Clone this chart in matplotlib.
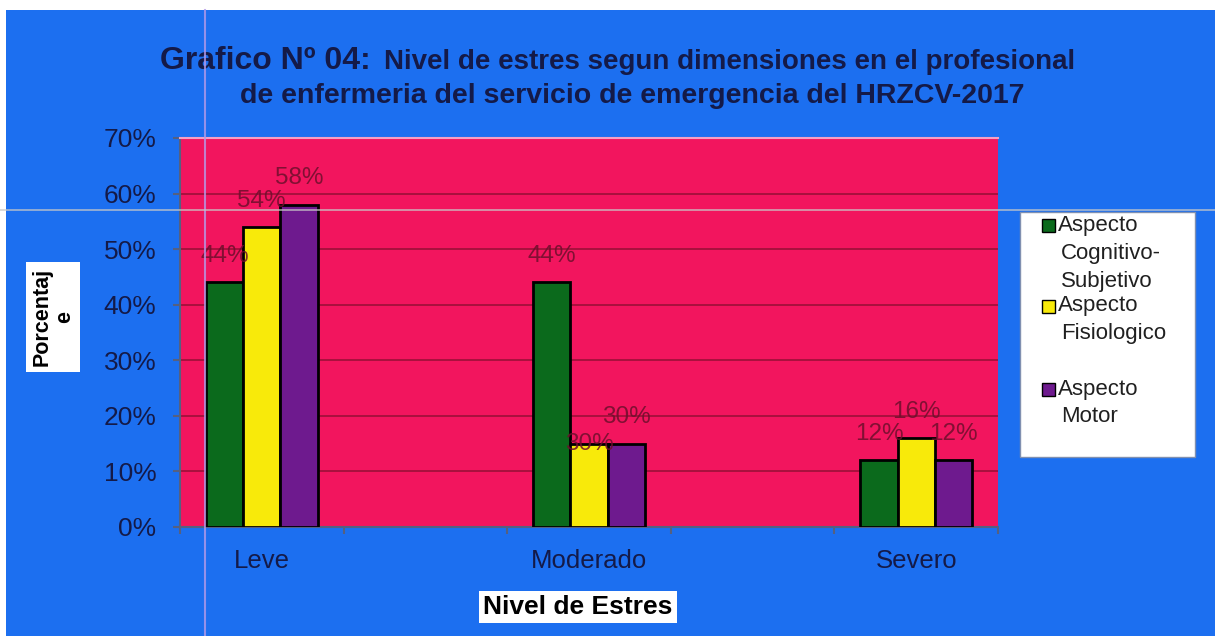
import matplotlib
matplotlib.use("Agg")
import matplotlib.pyplot as plt
from matplotlib.patches import Rectangle
from matplotlib.lines import Line2D

plt.rcParams['font.family'] = ['Liberation Sans', 'DejaVu Sans']

categories = ["Leve", "Moderado", "Severo"]
series_names = ["Aspecto Cognitivo-Subjetivo", "Aspecto Fisiologico", "Aspecto Motor"]
cognitivo = [44, 44, 12]
fisiologico = [54, 15, 16]
motor = [58, 15, 12]
# labels as printed on the original chart
cognitivo_labels = ["44%", "44%", "12%"]
fisiologico_labels = ["54%", "30%", "16%"]
motor_labels = ["58%", "30%", "12%"]
y_ticks = [0, 10, 20, 30, 40, 50, 60, 70]

BLUE = "#1c6ff0"
PINK = "#f2155e"
GRID = "#a8103e"
NAVY = "#141a48"
LBL = "#6e0f2c"
colors = ["#0b6a1c", "#f8ea0a", "#6e1a8e"]

W, H = 1215, 636
fig = plt.figure(figsize=(W / 100, H / 100), dpi=100, facecolor="white")
fig.add_artist(Rectangle((6 / W, 0), 1, 1 - 10 / H, transform=fig.transFigure,
                         facecolor=BLUE, edgecolor="none", zorder=0))

ax = fig.add_axes([180 / W, 1 - 527 / H, (998 - 180) / W, (527 - 138) / H])
ax.set_facecolor(PINK)

pos = [0, 2, 4]
bw = 0.227
data = [cognitivo, fisiologico, motor]
labels = [cognitivo_labels, fisiologico_labels, motor_labels]
for k in range(3):
    xs = [p + (k - 1) * bw for p in pos]
    bars = ax.bar(xs, data[k], bw, color=colors[k], edgecolor="black",
                  linewidth=2, zorder=3)
    for i, b in enumerate(bars):
        off = 19
        if k == 1 and i == 1:
            off = 0
        ax.annotate(labels[k][i], (b.get_x() + b.get_width() / 2, b.get_height()),
                    xytext=(0, off), textcoords="offset points", ha="center",
                    va="center", fontsize=17.5, color=LBL, alpha=0.85, zorder=4)

ax.set_xlim(-0.5, 4.5)
ax.set_ylim(0, 70)
ax.set_yticks(y_ticks)
ax.set_yticklabels([f"{t}%" for t in y_ticks])
ax.yaxis.grid(True, color=GRID, linewidth=1.4, zorder=1)
ax.set_axisbelow(True)
ax.set_xticks(pos)
ax.set_xticklabels(categories)
ax.set_xticks([-0.5, 0.5, 1.5, 2.5, 3.5, 4.5], minor=True)
ax.tick_params(axis="x", which="major", length=0, pad=16, labelsize=18.5,
               labelcolor=NAVY)
ax.tick_params(axis="x", which="minor", length=5, color="#556080", width=1.5)
ax.tick_params(axis="y", length=5, color="#556080", width=1.5, pad=12,
               labelsize=19, labelcolor=NAVY)
ax.spines["right"].set_visible(False)
ax.spines["top"].set_color("#f4a0c4")
ax.spines["top"].set_linewidth(1.5)
for s in ["left", "bottom"]:
    ax.spines[s].set_color("#556080")
    ax.spines[s].set_linewidth(1.5)

# title
fig.text(160 / W, 1 - 61 / H, "Grafico Nº 04:", fontsize=23, fontweight="bold",
         color=NAVY, ha="left", va="center")
fig.text(1075 / W, 1 - 62 / H, "Nivel de estres segun dimensiones en el profesional",
         fontsize=20, fontweight="bold", color=NAVY, ha="right", va="center")
fig.text(632 / W, 1 - 96 / H, "de enfermeria del servicio de emergencia del HRZCV-2017",
         fontsize=20.5, fontweight="bold", color=NAVY, ha="center", va="center")

# axis labels in white boxes
fig.text(53 / W, 1 - 317 / H, "Porcentaj\ne", rotation=90, fontsize=15.5,
         fontweight="bold", color="black", ha="center", va="center",
         multialignment="center", linespacing=1.1,
         bbox=dict(facecolor="white", edgecolor="none", pad=4))
fig.text(578 / W, 1 - 607 / H, "Nivel de Estres", fontsize=19, fontweight="bold",
         color="black", ha="center", va="center",
         bbox=dict(facecolor="white", edgecolor="none", pad=3))

# legend
fig.add_artist(Rectangle((1020 / W, 1 - 457 / H), 175 / W, 245 / H,
                         transform=fig.transFigure, facecolor="white",
                         edgecolor="#8090b0", linewidth=1, zorder=5))
leg_lines = [["Aspecto", "Cognitivo-", "Subjetivo"], ["Aspecto", "Fisiologico"],
             ["Aspecto", "Motor"]]
leg_y = [225, 306, 389]
for k in range(3):
    y0 = leg_y[k]
    fig.add_artist(Rectangle((1042 / W, 1 - (y0 + 7) / H), 13 / W, 13 / H,
                             transform=fig.transFigure, facecolor=colors[k],
                             edgecolor="black", linewidth=1, zorder=6))
    for j, t in enumerate(leg_lines[k]):
        fig.text(1058 / W if j == 0 else 1061 / W, 1 - (y0 + j * 28) / H, t,
                 fontsize=16, color="#202020", ha="left", va="center", zorder=7)

# scan artefacts
fig.add_artist(Line2D([205 / W, 205 / W], [0, 1 - 10 / H], transform=fig.transFigure,
                      color="#b49ae8", linewidth=1.5, zorder=8, alpha=0.8))
fig.add_artist(Line2D([0, 1], [1 - 210 / H, 1 - 210 / H], transform=fig.transFigure,
                      color="#c8c8c8", linewidth=1.2, zorder=8, alpha=0.8))

fig.savefig("out.png", dpi=100, facecolor=fig.get_facecolor())
